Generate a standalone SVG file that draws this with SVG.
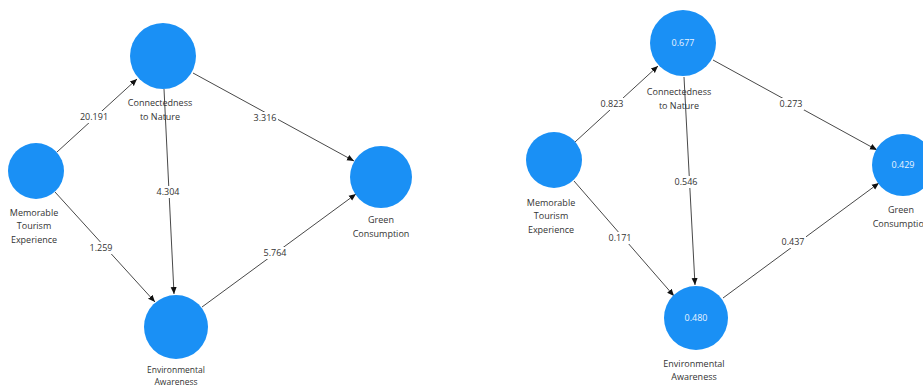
<svg xmlns="http://www.w3.org/2000/svg" width="923" height="387" viewBox="0 0 923 387">
<defs>
<marker id="arr" markerWidth="8" markerHeight="8" refX="7" refY="4" orient="auto" markerUnits="userSpaceOnUse">
<path d="M0,1 L7,4 L0,7 Z" fill="#111"/>
</marker>
<style>
.n{fill:#1a90f5;}
.t{font-family:"Open Sans","Noto Sans",sans-serif;font-size:9px;fill:#333;text-anchor:middle;}
.s{font-size:8.5px;}
.w{font-family:"Open Sans","Noto Sans",sans-serif;font-size:9px;fill:#e8f3ff;text-anchor:middle;}
.e{stroke:#333;stroke-width:0.9;fill:none;marker-end:url(#arr);}
.bg{fill:#fff;}
</style>
</defs>
<rect width="923" height="387" fill="#fff"/>
<g id="connectors">
<line class="e" x1="57" y1="152" x2="137" y2="79"/>
<line class="e" x1="55" y1="192" x2="155" y2="302"/>
<line class="e" x1="164" y1="89" x2="174" y2="294"/>
<line class="e" x1="193" y1="73" x2="354" y2="161"/>
<line class="e" x1="202" y1="307" x2="356" y2="194"/>
<line class="e" x1="575" y1="142" x2="658" y2="66"/>
<line class="e" x1="574" y1="181" x2="674" y2="296"/>
<line class="e" x1="684" y1="77" x2="695" y2="285"/>
<line class="e" x1="713" y1="60" x2="877" y2="150"/>
<line class="e" x1="723" y1="298" x2="879" y2="183"/>
<rect class="bg" x="79" y="111" width="30" height="12"/>
<text class="t" x="94" y="120">20.191</text>
<rect class="bg" x="88" y="242" width="26" height="12"/>
<text class="t" x="101" y="251">1.259</text>
<rect class="bg" x="155" y="186" width="26" height="12"/>
<text class="t" x="168" y="195">4.304</text>
<rect class="bg" x="252" y="112" width="26" height="12"/>
<text class="t" x="265" y="121">3.316</text>
<rect class="bg" x="262" y="247" width="26" height="12"/>
<text class="t" x="275" y="256">5.764</text>
<rect class="bg" x="599" y="98" width="26" height="12"/>
<text class="t" x="612" y="107">0.823</text>
<rect class="bg" x="607" y="232" width="26" height="12"/>
<text class="t" x="620" y="241">0.171</text>
<rect class="bg" x="673" y="176" width="26" height="12"/>
<text class="t" x="686" y="185">0.546</text>
<rect class="bg" x="778" y="98" width="26" height="12"/>
<text class="t" x="791" y="107">0.273</text>
<rect class="bg" x="780" y="236" width="26" height="12"/>
<text class="t" x="793" y="245">0.437</text>
</g>
<g id="cn1">
<circle class="n" cx="163" cy="56" r="33"/>
<text class="t" x="160" y="106">Connectedness</text>
<text class="t" x="160" y="120">to Nature</text>
</g>
<g id="mte1">
<circle class="n" cx="36" cy="171" r="28"/>
<text class="t" x="34" y="216">Memorable</text>
<text class="t" x="34" y="229">Tourism</text>
<text class="t" x="34" y="243">Experience</text>
</g>
<g id="ea1">
<circle class="n" cx="176" cy="327" r="32"/>
<text class="t s" x="176" y="373">Environmental</text>
<text class="t s" x="176" y="385">Awareness</text>
</g>
<g id="gc1">
<circle class="n" cx="381" cy="177" r="31"/>
<text class="t" x="381" y="223">Green</text>
<text class="t" x="381" y="237">Consumption</text>
</g>
<g id="cn2">
<circle class="n" cx="683" cy="43" r="33"/>
<text class="w" x="683" y="46">0.677</text>
<text class="t" x="679" y="95">Connectedness</text>
<text class="t" x="679" y="109">to Nature</text>
</g>
<g id="mte2">
<circle class="n" cx="554" cy="160" r="28"/>
<text class="t" x="551" y="206">Memorable</text>
<text class="t" x="551" y="219">Tourism</text>
<text class="t" x="551" y="233">Experience</text>
</g>
<g id="ea2">
<circle class="n" cx="696" cy="318" r="32"/>
<text class="w" x="696" y="321">0.480</text>
<text class="t" x="694" y="367">Environmental</text>
<text class="t" x="694" y="380">Awareness</text>
</g>
<g id="gc2">
<circle class="n" cx="903" cy="165" r="31"/>
<text class="w" x="903" y="168">0.429</text>
<text class="t" x="901" y="213">Green</text>
<text class="t" x="901" y="227">Consumption</text>
</g>
</svg>
